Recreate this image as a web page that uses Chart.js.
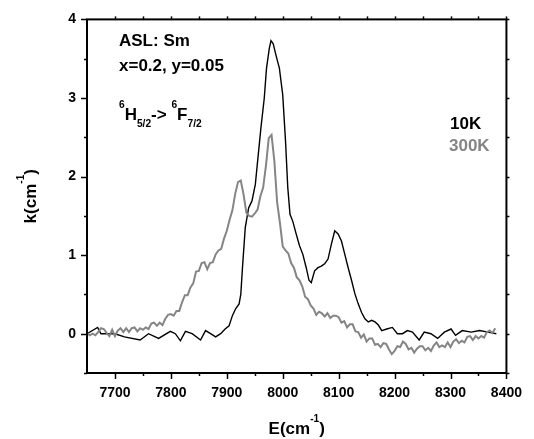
<!DOCTYPE html>
<html>
<head>
<meta charset="utf-8">
<script src="https://cdn.jsdelivr.net/npm/chart.js@4.4.0/dist/chart.umd.min.js"></script>
<style>
  html, body { margin: 0; padding: 0; background: #fff; }
  #wrap { width: 534px; height: 439px; }
</style>
</head>
<body>
<div id="wrap"><canvas id="c" width="534" height="439"></canvas></div>
<script>
(function(){
  // --- Data ------------------------------------------------------------------
  // 10K spectrum: energy (cm-1) and absorption k (cm-1)
  var e10K = [7650,7669,7675,7700,7717,7745,7760,7778,7799,7808,
              7817,7826,7838,7853,7862,7871,7880,7889,7897,7904,
              7910,7916,7922,7925,7928,7933,7939,7945,7951,7955,
              7961,7967,7971,7976,7979,7983,7987,7991,7994,8000,
              8005,8009,8013,8018,8024,8030,8036,8042,8047,8051,
              8057,8063,8069,8075,8081,8087,8093,8099,8105,8111,
              8117,8123,8129,8135,8141,8147,8153,8159,8165,8171,
              8177,8186,8196,8205,8214,8223,8232,8244,8253,8265,
              8277,8289,8301,8309,8321,8337,8352,8367,8382];
  var k10K = [0,0.08,0,0,-0.04,-0.08,0,-0.06,0.03,0,
              -0.09,0.03,0,-0.08,0.04,0,-0.04,0,0.06,0.1,
              0.23,0.32,0.38,0.5,0.84,1.35,1.6,1.69,1.9,2.19,
              2.62,3.0,3.38,3.63,3.73,3.69,3.57,3.46,3.38,3.04,
              2.45,1.86,1.52,1.43,1.27,1.12,1.01,0.84,0.68,0.65,
              0.8,0.84,0.86,0.89,0.95,1.14,1.31,1.27,1.18,1.01,
              0.84,0.68,0.51,0.38,0.27,0.19,0.15,0.17,0.15,0.11,
              0.04,0.06,0.08,0,0,0.04,0.02,-0.08,0.02,0,
              -0.06,0.02,0.06,-0.02,0.04,0.02,0.04,0.02,0];

  // 300K spectrum (noisy), one reading every 5 cm-1
  var e300K = [7650,7655,7660,7665,7670,7675,7680,7685,7690,7695,
               7700,7705,7710,7715,7720,7725,7730,7735,7740,7745,
               7750,7755,7760,7765,7770,7775,7780,7785,7790,7795,
               7800,7805,7810,7815,7820,7825,7830,7835,7840,7845,
               7850,7855,7860,7865,7870,7875,7880,7885,7890,7895,
               7900,7905,7910,7915,7920,7925,7930,7935,7940,7945,
               7950,7955,7960,7965,7970,7975,7980,7985,7990,7995,
               8000,8005,8010,8015,8020,8025,8030,8035,8040,8045,
               8050,8055,8060,8065,8070,8075,8080,8085,8090,8095,
               8100,8105,8110,8115,8120,8125,8130,8135,8140,8145,
               8150,8155,8160,8165,8170,8175,8180,8185,8190,8195,
               8200,8205,8210,8215,8220,8225,8230,8235,8240,8245,
               8250,8255,8260,8265,8270,8275,8280,8285,8290,8295,
               8300,8305,8310,8315,8320,8325,8330,8335,8340,8345,
               8350,8355,8360,8365,8370,8375,8380];
  var k300K = [0.01,-0.02,0,-0.02,0.02,0.07,0.06,0.01,-0.03,0.05,
               -0.03,0.04,0.07,0.02,0.07,0.02,0.07,0.08,0.03,0.07,
               0.05,0.08,0.06,0.13,0.14,0.1,0.14,0.11,0.19,0.24,
               0.25,0.23,0.29,0.29,0.4,0.49,0.49,0.59,0.64,0.79,
               0.8,0.9,0.91,0.82,0.9,0.91,1.01,1.06,1.08,1.21,
               1.31,1.45,1.57,1.78,1.93,1.95,1.77,1.54,1.5,1.49,
               1.53,1.58,1.75,1.86,2.14,2.49,2.53,2.2,1.67,1.41,
               1.11,1.06,1.02,0.9,0.84,0.72,0.68,0.6,0.47,0.44,
               0.36,0.32,0.24,0.28,0.26,0.22,0.26,0.2,0.23,0.23,
               0.21,0.14,0.16,0.08,0.12,0.12,0.03,0.02,-0.05,-0.01,
               -0.1,-0.06,-0.06,-0.14,-0.13,-0.17,-0.12,-0.13,-0.2,-0.26,
               -0.22,-0.16,-0.17,-0.1,-0.13,-0.2,-0.18,-0.24,-0.19,-0.16,
               -0.16,-0.21,-0.18,-0.22,-0.15,-0.11,-0.17,-0.15,-0.17,-0.11,
               -0.17,-0.1,-0.07,-0.12,-0.09,-0.11,-0.04,-0.03,-0.08,-0.03,
               -0.06,-0.03,-0.05,0.02,0.04,0.01,0.07];

  // Tick labels
  var xTickLabels = [7700,7800,7900,8000,8100,8200,8300,8400];
  var yTickLabels = [0,1,2,3,4];
  var xMinorTicks = [7700,7750,7800,7850,7900,7950,8000,8050,8100,8150,8200,8250,8300,8350,8400];
  var yMinorTicks = [-0.5,0,0.5,1,1.5,2,2.5,3,3.5,4];

  // --- Helpers ---------------------------------------------------------------
  var FAMILY = "'Liberation Sans', Arial, sans-serif";
  function font(size){ return 'bold ' + size + 'px ' + FAMILY; }

  function toPoints(xs, ys){
    return xs.map(function(x, i){ return { x: x, y: ys[i] }; });
  }

  // parts: [text, mode] with mode 1 = superscript, -1 = subscript, 0 = normal
  function drawRich(ctx, parts, x, y, size, color, align){
    var small = size * 0.6;
    var w = 0;
    parts.forEach(function(p){
      ctx.font = font(p[1] ? small : size);
      w += ctx.measureText(p[0]).width;
    });
    var cx = align === 'center' ? x - w / 2 : x;
    ctx.fillStyle = color;
    ctx.textAlign = 'left';
    ctx.textBaseline = 'alphabetic';
    parts.forEach(function(p){
      ctx.font = font(p[1] ? small : size);
      var dy = p[1] === 1 ? -size * 0.7 : (p[1] === -1 ? size * 0.4 : 0);
      ctx.fillText(p[0], cx, y + dy);
      cx += ctx.measureText(p[0]).width;
    });
  }

  // --- Frame, tick marks and labels ------------------------------------------
  var decorations = {
    id: 'decorations',
    afterDraw: function(chart){
      var ctx = chart.ctx, a = chart.chartArea;
      var xs = chart.scales.x, ys = chart.scales.y;
      ctx.save();
      ctx.strokeStyle = '#000';

      ctx.lineWidth = 1.5;
      xMinorTicks.forEach(function(v){
        var px = Math.round(xs.getPixelForValue(v)) + 0.5;
        var len = (v % 100 === 0) ? 6 : 3;
        ctx.beginPath(); ctx.moveTo(px, a.bottom); ctx.lineTo(px, a.bottom + len); ctx.stroke();
        ctx.beginPath(); ctx.moveTo(px, a.top); ctx.lineTo(px, a.top - 3); ctx.stroke();
      });
      yMinorTicks.forEach(function(v){
        var py = Math.round(ys.getPixelForValue(v)) + 0.5;
        var len = (v % 1 === 0) ? 6 : 3;
        ctx.beginPath(); ctx.moveTo(a.left, py); ctx.lineTo(a.left - len, py); ctx.stroke();
        ctx.beginPath(); ctx.moveTo(a.right, py); ctx.lineTo(a.right + 3, py); ctx.stroke();
      });

      ctx.lineWidth = 2;
      ctx.strokeRect(a.left, a.top, a.right - a.left, a.bottom - a.top);

      // axis titles
      drawRich(ctx, [['E(cm', 0], ['-1', 1], [')', 0]], (a.left + a.right) / 2, 434, 17, '#000', 'center');
      ctx.save();
      ctx.translate(36, (a.top + a.bottom) / 2);
      ctx.rotate(-Math.PI / 2);
      drawRich(ctx, [['k(cm', 0], ['-1', 1], [')', 0]], 0, 0, 17, '#000', 'center');
      ctx.restore();

      // annotations
      drawRich(ctx, [['ASL: Sm', 0]], 119, 46, 17, '#000', 'left');
      drawRich(ctx, [['x=0.2, y=0.05', 0]], 119, 71, 17, '#000', 'left');
      drawRich(ctx, [['6', 1], ['H', 0], ['5/2', -1], ['-> ', 0], ['6', 1], ['F', 0], ['7/2', -1]],
               119, 120, 17, '#000', 'left');

      // legend texts
      drawRich(ctx, [['10K', 0]], 450, 129, 17, '#000', 'left');
      drawRich(ctx, [['300K', 0]], 449, 151, 17, '#858585', 'left');

      ctx.restore();
    }
  };

  var ctx = document.getElementById('c').getContext('2d');
  window.spectrumChart = new Chart(ctx, {
    type: 'line',
    data: {
      datasets: [{
        label: '300K',
        data: toPoints(e300K, k300K),
        borderColor: '#858585',
        borderWidth: 2,
        pointRadius: 0,
        fill: false
      },{
        label: '10K',
        data: toPoints(e10K, k10K),
        borderColor: '#000',
        borderWidth: 1.4,
        pointRadius: 0,
        fill: false
      }]
    },
    options: {
      responsive: false,
      animation: false,
      devicePixelRatio: 1,
      layout: { padding: { left: 0, right: 21, top: 17, bottom: 0 } },
      plugins: { legend: { display: false }, tooltip: { enabled: false } },
      scales: {
        x: {
          type: 'linear',
          min: 7650, max: 8400,
          afterBuildTicks: function(s){ s.ticks = xTickLabels.map(function(v){ return { value: v }; }); },
          afterFit: function(s){ s.height = 66; },
          grid: { display: false, drawTicks: false },
          border: { display: false },
          ticks: {
            color: '#000', font: { family: FAMILY, size: 14, weight: 'bold' },
            padding: 12, maxRotation: 0, autoSkip: false,
            callback: function(v){ return String(v); }
          }
        },
        y: {
          type: 'linear',
          min: -0.5, max: 4,
          afterBuildTicks: function(s){ s.ticks = yTickLabels.map(function(v){ return { value: v }; }); },
          afterFit: function(s){ s.width = 87; },
          grid: { display: false, drawTicks: false },
          border: { display: false },
          ticks: {
            color: '#000', font: { family: FAMILY, size: 14, weight: 'bold' },
            padding: 11,
            callback: function(v){ return String(v); }
          }
        }
      }
    },
    plugins: [decorations]
  });
})();
</script>
</body>
</html>
